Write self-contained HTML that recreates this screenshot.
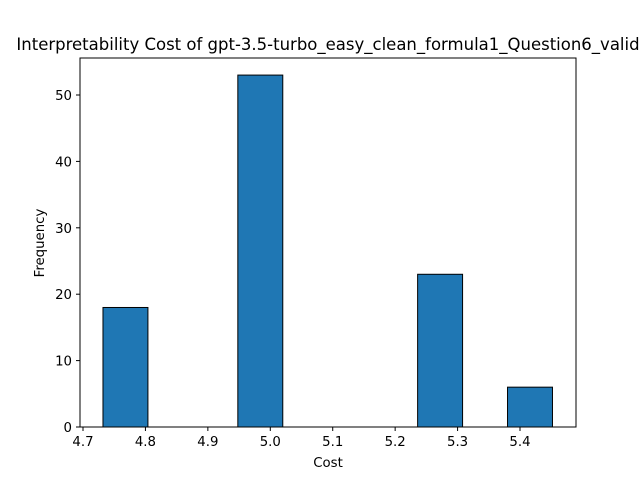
<!DOCTYPE html>
<html><head><meta charset="utf-8"><style>
body{margin:0;background:#fff;}
svg{display:block;font-family:"DejaVu Sans","Liberation Sans",sans-serif;}
</style></head><body>
<svg id="chart" width="640" height="480">
<text x="328" y="50" text-anchor="middle" font-size="16.5">Interpretability Cost of gpt-3.5-turbo_easy_clean_formula1_Question6_valid</text>
<g id="bars"></g>
<rect x="80" y="58" width="496" height="369" fill="none" stroke="#000" stroke-width="1"/>
<g id="axes"></g>
<text x="328" y="467" text-anchor="middle" font-size="13.3">Cost</text>
<text x="44" y="243" text-anchor="middle" font-size="13.3" transform="rotate(-90 44 243)">Frequency</text>
</svg>
<script>
const binStart = 4.732;
const binWidth = 0.072;
const counts = [18, 0, 0, 53, 0, 0, 0, 23, 0, 6];
const xTicks = [4.7, 4.8, 4.9, 5.0, 5.1, 5.2, 5.3, 5.4];
const xTickLabels = ["4.7","4.8","4.9","5.0","5.1","5.2","5.3","5.4"];
const yTicks = [0, 10, 20, 30, 40, 50];
const NS = "http://www.w3.org/2000/svg";
function xs(v){return 83 + (v - 4.7) * 624.3;}
function ys(v){return 427 - v * 6.64;}
const bars = document.getElementById('bars');
counts.forEach((c,i)=>{
  if(c<=0) return;
  const r=document.createElementNS(NS,'rect');
  const x0=xs(binStart+i*binWidth), x1=xs(binStart+(i+1)*binWidth);
  r.setAttribute('x',x0);r.setAttribute('width',x1-x0);
  r.setAttribute('y',ys(c));r.setAttribute('height',ys(0)-ys(c));
  r.setAttribute('fill','#1f77b4');r.setAttribute('stroke','#000');r.setAttribute('stroke-width','1');
  
  
  bars.appendChild(r);
});
const axes=document.getElementById('axes');
xTicks.forEach((t,i)=>{
  const x=xs(t);
  const l=document.createElementNS(NS,'line');
  l.setAttribute('x1',x);l.setAttribute('x2',x);l.setAttribute('y1',427);l.setAttribute('y2',431);l.setAttribute('stroke','#000');
  
  
  axes.appendChild(l);
  const tx=document.createElementNS(NS,'text');
  tx.setAttribute('x',x);tx.setAttribute('y',446);tx.setAttribute('text-anchor','middle');tx.setAttribute('font-size','13.3');
  tx.textContent=xTickLabels[i];
  
  
  axes.appendChild(tx);
});
yTicks.forEach(t=>{
  const y=ys(t);
  const l=document.createElementNS(NS,'line');
  l.setAttribute('x1',76);l.setAttribute('x2',80);l.setAttribute('y1',y);l.setAttribute('y2',y);l.setAttribute('stroke','#000');
  
  
  axes.appendChild(l);
  const tx=document.createElementNS(NS,'text');
  tx.setAttribute('x',72);tx.setAttribute('y',y+5);tx.setAttribute('text-anchor','end');tx.setAttribute('font-size','13.3');
  tx.textContent=String(t);
  
  
  axes.appendChild(tx);
});
</script>
</body></html>
